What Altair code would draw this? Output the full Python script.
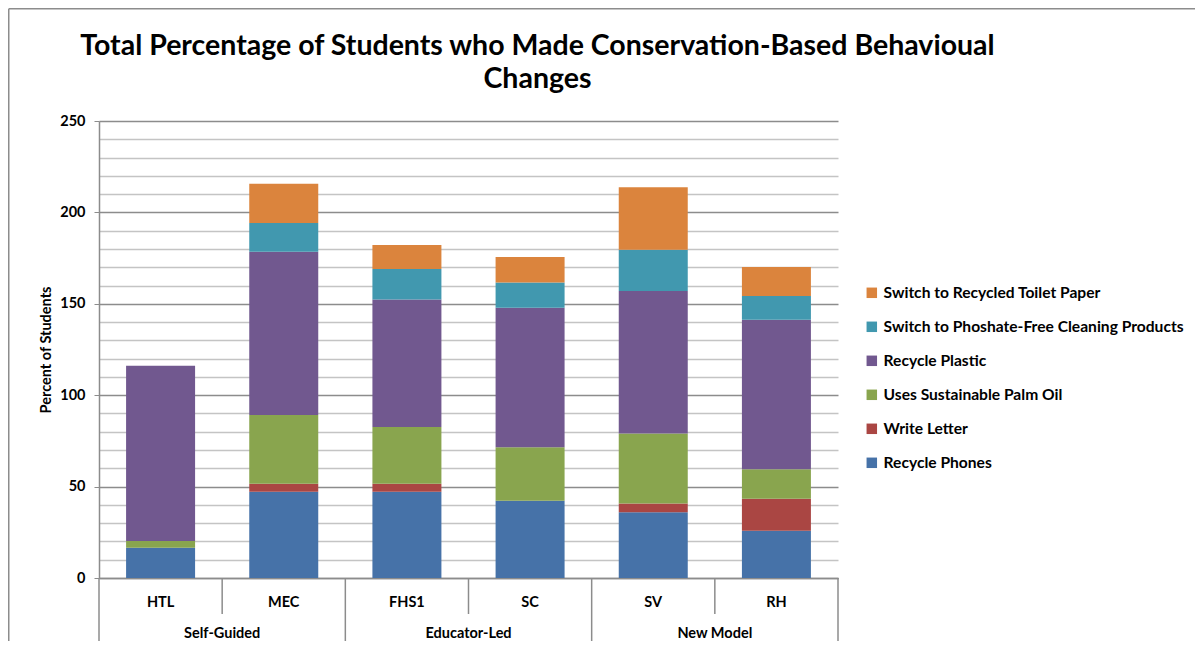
import altair as alt
import pandas as pd

schools = ["HTL", "MEC", "FHS1", "SC", "SV", "RH"]
groups = ["Self-Guided", "Educator-Led", "New Model"]
group_first = ["HTL", "FHS1", "SV"]

series = [
    "Recycle Phones",
    "Write Letter",
    "Uses Sustainable Palm Oil",
    "Recycle Plastic",
    "Switch to Phoshate-Free Cleaning Products",
    "Switch to Recycled Toilet Paper",
]
colors = ["#4672a8", "#aa4643", "#89a54e", "#71588f", "#4198af", "#db843d"]

recycle_phones = [16.6, 47.2, 47.2, 42.3, 35.9, 25.9]
write_letter = [0.0, 4.4, 4.4, 0.0, 4.8, 17.5]
palm_oil = [3.6, 37.6, 31.0, 29.2, 38.4, 16.1]
recycle_plastic = [95.9, 89.3, 69.7, 76.4, 77.9, 81.8]
phosphate_free = [0.0, 15.7, 16.7, 13.8, 22.6, 13.0]
toilet_paper = [0.0, 21.5, 13.2, 13.9, 34.1, 15.8]

all_values = [recycle_phones, write_letter, palm_oil, recycle_plastic, phosphate_free, toilet_paper]

rows = []
for si, (s, vals) in enumerate(zip(series, all_values)):
    for sc, v in zip(schools, vals):
        rows.append({"school": sc, "series": s, "idx": si, "value": v})
df = pd.DataFrame(rows)

grp_df = pd.DataFrame({"group": groups, "first": group_first})

FONT = "Lato"
W, H = 739, 457

x_enc = alt.X(
    "school:N",
    sort=schools,
    scale=alt.Scale(domain=schools, paddingInner=0, paddingOuter=0),
    axis=alt.Axis(
        title=None, labelAngle=0, ticks=False, labelPadding=17,
        labelFont=FONT, labelFontSize=14.5, labelFontWeight="bold", labelColor="#000",
        domainColor="#8c8c8c", domainWidth=1.5,
    ),
)

bars = alt.Chart(df).mark_bar(size=69).encode(
    x=x_enc,
    y=alt.Y(
        "value:Q",
        stack="zero",
        scale=alt.Scale(domain=[0, 250], nice=False),
        axis=alt.Axis(
            title="Percent of Students",
            titleFont=FONT, titleFontSize=14.5, titleFontWeight="bold", titleColor="#000",
            titlePadding=6,
            values=list(range(0, 251, 10)),
            labelExpr="datum.value % 50 === 0 ? datum.label : ''",
            labelFont=FONT, labelFontSize=14.5, labelFontWeight="bold", labelColor="#000",
            labelPadding=9,
            tickSize=5,
            tickColor="#8c8c8c",
            tickOpacity=alt.ExprRef("datum.value % 50 === 0 ? 1 : 0"),
            grid=True,
            gridColor=alt.ExprRef("datum.value % 50 === 0 ? '#8c8c8c' : '#c4c4c4'"),
            gridWidth=1.3,
            domainColor="#8c8c8c", domainWidth=1.5,
        ),
    ),
    color=alt.Color(
        "series:N",
        scale=alt.Scale(domain=series[::-1], range=colors[::-1]),
        legend=alt.Legend(
            title=None, orient="none", legendX=765, legendY=164,
            symbolType="square", symbolSize=110, symbolStrokeWidth=0,
            labelFont=FONT, labelFontSize=15.6, labelFontWeight="bold", labelColor="#000",
            labelLimit=400, labelOffset=4, rowPadding=17,
        ),
    ),
    order=alt.Order("idx:Q", sort="ascending"),
)

small_sep = alt.Chart(pd.DataFrame({"school": ["MEC", "SC", "RH"]})).mark_rule(
    color="#8c8c8c", strokeWidth=1.5
).encode(
    x=alt.X("school:N", bandPosition=0),
    y=alt.value(H),
    y2=alt.value(H + 36),
)

big_sep = alt.Chart(pd.DataFrame({"school": group_first})).mark_rule(
    color="#8c8c8c", strokeWidth=1.5
).encode(
    x=alt.X("school:N", bandPosition=0),
    y=alt.value(H),
    y2=alt.value(H + 80),
)

end_sep = alt.Chart(pd.DataFrame({"school": ["RH"]})).mark_rule(
    color="#8c8c8c", strokeWidth=1.5
).encode(
    x=alt.X("school:N", bandPosition=1),
    y=alt.value(H),
    y2=alt.value(H + 80),
)

grp_text = alt.Chart(grp_df).mark_text(
    font=FONT, fontSize=14.5, fontWeight="bold", color="#000", baseline="middle"
).encode(
    x=alt.X("first:N", bandPosition=1),
    y=alt.value(H + 56),
    text="group:N",
)

frame_top = alt.Chart(pd.DataFrame({"k": [0]})).mark_rule(color="#8c8c8c", strokeWidth=1.5).encode(
    x=alt.value(-90.25), x2=alt.value(1100), y=alt.value(-112.25)
)
frame_left = alt.Chart(pd.DataFrame({"k": [0]})).mark_rule(color="#8c8c8c", strokeWidth=1.5).encode(
    x=alt.value(-90.25), y=alt.value(-112.25), y2=alt.value(H + 80)
)

chart = alt.layer(bars, small_sep, big_sep, end_sep, grp_text, frame_top, frame_left).properties(
    width=W,
    height=H,
    padding={"left": 91, "top": 113, "right": 357, "bottom": 63},
    autosize=alt.AutoSizeParams(type="none"),
    title=alt.TitleParams(
        text=["Total Percentage of Students who Made Conservation-Based Behavioual", "Changes"],
        font=FONT, fontSize=28.5, fontWeight="bold", color="#000",
        anchor="middle", dx=69, dy=85, offset=0, lineHeight=33,
    ),
).configure_view(stroke=None)

chart.save("out.html", embed_options={"renderer": "svg", "actions": False})
